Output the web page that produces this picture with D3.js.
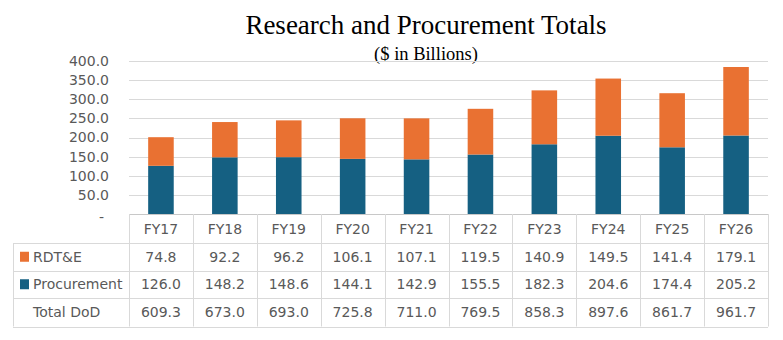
<!DOCTYPE html>
<html>
<head>
<meta charset="utf-8">
<script src="https://cdn.jsdelivr.net/npm/d3@7"></script>
<style>
  body { margin: 0; background: #fff; }
  svg { display: block; }
</style>
</head>
<body>
<div id="chart"></div>
<script>
// Fiscal years and budget lines ($ in billions)
const years = ["FY17", "FY18", "FY19", "FY20", "FY21", "FY22", "FY23", "FY24", "FY25", "FY26"];
const rdte = [74.8, 92.2, 96.2, 106.1, 107.1, 119.5, 140.9, 149.5, 141.4, 179.1];
const procurement = [126.0, 148.2, 148.6, 144.1, 142.9, 155.5, 182.3, 204.6, 174.4, 205.2];
const totalDoD = [609.3, 673.0, 693.0, 725.8, 711.0, 769.5, 858.3, 897.6, 861.7, 961.7];
const yTicks = [0, 50, 100, 150, 200, 250, 300, 350, 400];

const W = 783, H = 340;
const plot = { left: 129, right: 768, top: 61, bottom: 214 };
const tableLeft = 13;
const rowH = [29, 27.5, 27.5, 28.5];
const blue = "#156082", orange = "#E97132";
const gridColor = "#d9d9d9", textColor = "#595959";
const font = "'DejaVu Sans', Verdana, sans-serif";
const serif = "'Liberation Serif', 'Times New Roman', serif";

const svg = d3.select("#chart").append("svg")
    .attr("width", W)
    .attr("height", H);

// Title
svg.append("text")
    .attr("x", 426).attr("y", 34)
    .attr("text-anchor", "middle")
    .style("font-family", serif)
    .style("font-size", "27px")
    .style("fill", "#000")
    .text("Research and Procurement Totals");

svg.append("text")
    .attr("x", 426).attr("y", 60)
    .attr("text-anchor", "middle")
    .style("font-family", serif)
    .style("font-size", "18.5px")
    .style("fill", "#000")
    .text("($ in Billions)");

const x = d3.scaleBand()
    .domain(years)
    .range([plot.left, plot.right])
    .paddingInner(0.6)
    .paddingOuter(0.3);

const col = d3.scaleBand()
    .domain(years)
    .range([plot.left, plot.right]);

const y = d3.scaleLinear()
    .domain([0, 400])
    .range([plot.bottom, plot.top]);

// Gridlines
svg.append("g")
    .selectAll("line")
    .data(yTicks.filter(d => d > 0))
    .join("line")
    .attr("x1", plot.left).attr("x2", plot.right)
    .attr("y1", d => Math.round(y(d)) + 0.5)
    .attr("y2", d => Math.round(y(d)) + 0.5)
    .attr("stroke", gridColor)
    .attr("stroke-width", 1);

// Y axis labels
const yAxis = svg.append("g")
    .attr("transform", `translate(${plot.left - 20},0)`)
    .call(d3.axisLeft(y).tickValues(yTicks).tickSize(0).tickPadding(0)
        .tickFormat(d => d === 0 ? "-" : d3.format(".1f")(d)));
yAxis.select(".domain").remove();
yAxis.selectAll("text")
    .style("font-family", font)
    .style("font-size", "14px")
    .style("fill", textColor)
    .attr("dx", d => d === 0 ? "-5px" : 0)
    .attr("dy", d => d === 0 ? "0.5em" : "0.32em");

// Stacked bars
const rows = years.map((yr, i) => ({ year: yr, procurement: procurement[i], rdte: rdte[i] }));
const stack = d3.stack().keys(["procurement", "rdte"])(rows);
const colors = { procurement: blue, rdte: orange };

svg.append("g")
    .selectAll("g")
    .data(stack)
    .join("g")
    .attr("fill", d => colors[d.key])
    .selectAll("rect")
    .data(d => d)
    .join("rect")
    .attr("x", d => x(d.data.year))
    .attr("width", x.bandwidth())
    .attr("y", d => y(d[1]))
    .attr("height", d => y(d[0]) - y(d[1]));

// Data table below the chart
const rowTops = [plot.bottom];
rowH.forEach((h, i) => rowTops.push(rowTops[i] + h));
const tableBottom = rowTops[rowTops.length - 1];

const table = svg.append("g");
const tableRows = [
    { label: "RDT&E", key: orange, values: rdte },
    { label: "Procurement", key: blue, values: procurement },
    { label: "Total DoD", key: null, values: totalDoD }
];

// horizontal rules
table.append("line")
    .attr("x1", plot.left).attr("x2", plot.right)
    .attr("y1", rowTops[0] + 0.5).attr("y2", rowTops[0] + 0.5)
    .attr("stroke", "#c8c8c8");
rowTops.slice(1).forEach(t => {
    table.append("line")
        .attr("x1", tableLeft).attr("x2", plot.right)
        .attr("y1", Math.round(t) + 0.5).attr("y2", Math.round(t) + 0.5)
        .attr("stroke", gridColor);
});

// vertical rules
table.append("line")
    .attr("x1", tableLeft + 0.5).attr("x2", tableLeft + 0.5)
    .attr("y1", rowTops[1]).attr("y2", tableBottom)
    .attr("stroke", gridColor);
years.forEach(yr => {
    const cx = Math.round(col(yr)) + 0.5;
    table.append("line")
        .attr("x1", cx).attr("x2", cx)
        .attr("y1", rowTops[0]).attr("y2", tableBottom)
        .attr("stroke", gridColor);
});
table.append("line")
    .attr("x1", plot.right + 0.5).attr("x2", plot.right + 0.5)
    .attr("y1", rowTops[0]).attr("y2", tableBottom)
    .attr("stroke", gridColor);

// header row
table.selectAll(".hdr")
    .data(years)
    .join("text")
    .attr("class", "hdr")
    .attr("x", d => col(d) + col.bandwidth() / 2)
    .attr("y", (rowTops[0] + rowTops[1]) / 2)
    .attr("dy", "0.36em")
    .attr("text-anchor", "middle")
    .style("font-family", font)
    .style("font-size", "14px")
    .style("fill", textColor)
    .text(d => d);

tableRows.forEach((r, i) => {
    const mid = (rowTops[i + 1] + rowTops[i + 2]) / 2;
    if (r.key) {
        table.append("rect")
            .attr("x", 20).attr("y", mid - 5)
            .attr("width", 9).attr("height", 10)
            .attr("fill", r.key);
    }
    table.append("text")
        .attr("x", 33).attr("y", mid)
        .attr("dy", "0.36em")
        .style("font-family", font)
        .style("font-size", "14px")
        .style("fill", textColor)
        .text(r.label);
    table.selectAll(null)
        .data(r.values)
        .join("text")
        .attr("x", (d, j) => col(years[j]) + col.bandwidth() / 2)
        .attr("y", mid)
        .attr("dy", "0.36em")
        .attr("text-anchor", "middle")
        .style("font-family", font)
        .style("font-size", "14px")
        .style("fill", textColor)
        .text(d => d3.format(".1f")(d));
});
</script>
</body>
</html>
